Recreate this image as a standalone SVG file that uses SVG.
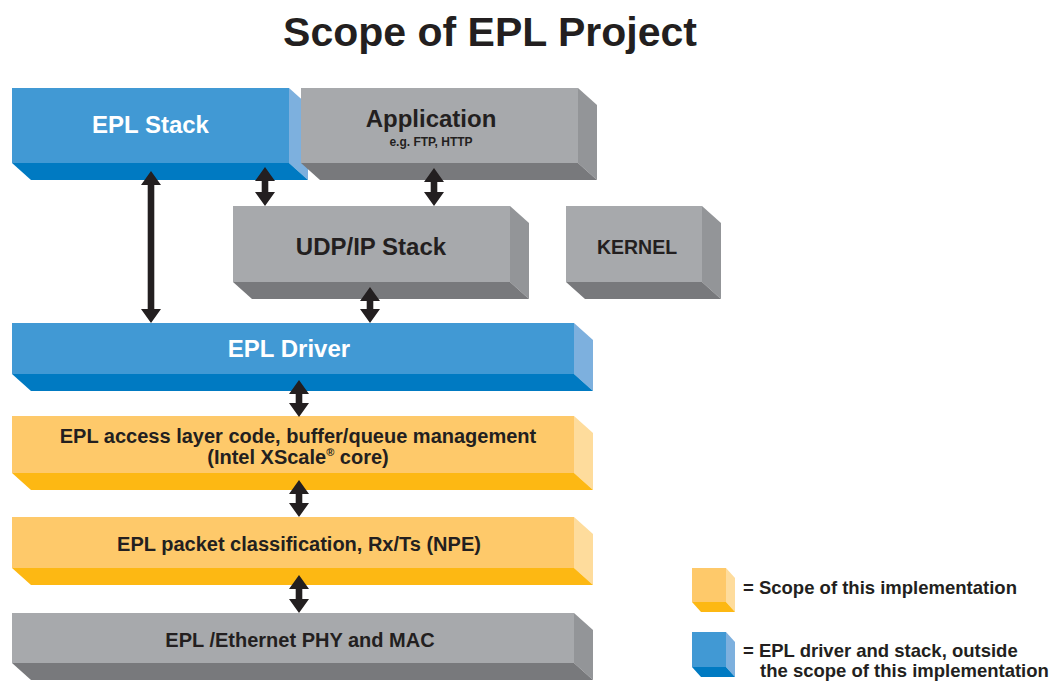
<svg xmlns="http://www.w3.org/2000/svg" width="1052" height="681" viewBox="0 0 1052 681">
<style>
text{font-family:"Liberation Sans",Arial,Helvetica,sans-serif;font-weight:bold;fill:#231f20}
.w{fill:#ffffff}
.c{text-anchor:middle}
.bf{fill:#4199d4}.bb{fill:#007ac2}.bs{fill:#7db0de}
.gf{fill:#a7a9ac}.gb{fill:#78797c}.gs{fill:#939598}
.yf{fill:#fec96a}.yb{fill:#fdb813}.ys{fill:#fedc9c}
.arr{fill:#231f20}
</style>
<rect width="1052" height="681" fill="#ffffff"/>
<text class="c" x="490" y="46" font-size="41">Scope of EPL Project</text>

<g id="epl-stack">
<rect class="bf" x="12" y="88" width="277" height="75"/>
<polygon class="bs" points="289,88 308,105 308,180 289,163"/>
<polygon class="bb" points="12,163 289,163 308,180 31,180"/>
<text class="c w" x="150.5" y="133" font-size="24">EPL Stack</text>
</g>

<g id="application">
<rect class="gf" x="301" y="88" width="277" height="75"/>
<polygon class="gs" points="578,88 597,105 597,180 578,163"/>
<polygon class="gb" points="301,163 578,163 597,180 320,180"/>
<text class="c" x="431" y="127" font-size="24">Application</text>
<text class="c" x="431" y="146" font-size="12">e.g. FTP, HTTP</text>
</g>

<g id="udp-ip-stack">
<rect class="gf" x="233" y="206" width="277" height="76"/>
<polygon class="gs" points="510,206 529,223 529,299 510,282"/>
<polygon class="gb" points="233,282 510,282 529,299 252,299"/>
<text class="c" x="371" y="255" font-size="24">UDP/IP Stack</text>
</g>

<g id="kernel">
<rect class="gf" x="566" y="206" width="136" height="76"/>
<polygon class="gs" points="702,206 721,223 721,299 702,282"/>
<polygon class="gb" points="566,282 702,282 721,299 585,299"/>
<text class="c" x="637" y="254" font-size="19.5">KERNEL</text>
</g>

<g id="epl-driver">
<rect class="bf" x="12" y="323" width="562" height="51"/>
<polygon class="bs" points="574,323 593,340 593,391 574,374"/>
<polygon class="bb" points="12,374 574,374 593,391 31,391"/>
<text class="c w" x="289" y="357" font-size="24">EPL Driver</text>
</g>

<g id="access-layer">
<rect class="yf" x="12" y="416" width="562" height="57"/>
<polygon class="ys" points="574,416 593,433 593,490 574,473"/>
<polygon class="yb" points="12,473 574,473 593,490 31,490"/>
<text class="c" x="298" y="443" font-size="20">EPL access layer code, buffer/queue management</text>
<text class="c" x="298" y="464" font-size="20">(Intel XScale<tspan font-size="11" dy="-8">®</tspan><tspan dy="8"> core)</tspan></text>
</g>

<g id="packet-classification">
<rect class="yf" x="12" y="517" width="562" height="51"/>
<polygon class="ys" points="574,517 593,534 593,585 574,568"/>
<polygon class="yb" points="12,568 574,568 593,585 31,585"/>
<text class="c" x="299" y="551" font-size="20">EPL packet classification, Rx/Ts (NPE)</text>
</g>

<g id="ethernet-phy-mac">
<rect class="gf" x="12" y="613" width="562" height="50"/>
<polygon class="gs" points="574,613 593,630 593,680 574,663"/>
<polygon class="gb" points="12,663 574,663 593,680 31,680"/>
<text class="c" x="300" y="647" font-size="20">EPL /Ethernet PHY and MAC</text>
</g>

<g id="connectors">
<path class="arr" d="M151,171 L161,185 L154.3,185 L154.3,309 L161,309 L151,323 L141,309 L147.7,309 L147.7,185 L141,185 Z"/>
<path class="arr" d="M265,167 L275,181 L268.3,181 L268.3,192 L275,192 L265,206 L255,192 L261.7,192 L261.7,181 L255,181 Z"/>
<path class="arr" d="M434,168 L444,182 L437.3,182 L437.3,192 L444,192 L434,206 L424,192 L430.7,192 L430.7,182 L424,182 Z"/>
<path class="arr" d="M370,287 L380,301 L373.3,301 L373.3,309 L380,309 L370,323 L360,309 L366.7,309 L366.7,301 L360,301 Z"/>
<path class="arr" d="M299,380 L309,394 L302.3,394 L302.3,403 L309,403 L299,417 L289,403 L295.7,403 L295.7,394 L289,394 Z"/>
<path class="arr" d="M299,480 L309,494 L302.3,494 L302.3,503 L309,503 L299,517 L289,503 L295.7,503 L295.7,494 L289,494 Z"/>
<path class="arr" d="M299,575 L309,589 L302.3,589 L302.3,599 L309,599 L299,613 L289,599 L295.7,599 L295.7,589 L289,589 Z"/>
</g>

<g id="legend-scope">
<rect class="yf" x="692" y="568" width="34" height="34"/>
<polygon class="ys" points="726,568 735,578 735,612 726,602"/>
<polygon class="yb" points="692,602 726,602 735,612 701,612"/>
<text x="743" y="594" font-size="18.5">= Scope of this implementation</text>
</g>

<g id="legend-outside">
<rect class="bf" x="692" y="632" width="34" height="35"/>
<polygon class="bs" points="726,632 735,642 735,677 726,667"/>
<polygon class="bb" points="692,667 726,667 735,677 701,677"/>
<text x="743" y="657" font-size="18.5">= EPL driver and stack, outside</text>
<text x="760" y="677" font-size="18.5">the scope of this implementation</text>
</g>
</svg>
